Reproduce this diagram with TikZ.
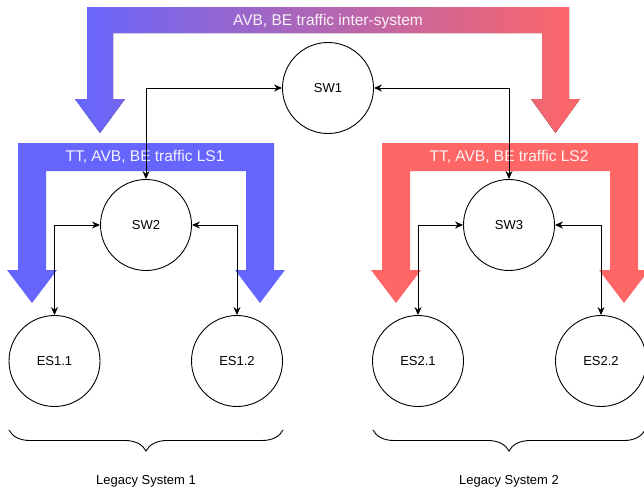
\documentclass[tikz,border=0pt]{standalone}
\usepackage{fontspec}
\setmainfont{Liberation Sans}
\usepackage{tikz}
\usetikzlibrary{arrows.meta,decorations.pathreplacing}
\definecolor{lsblue}{RGB}{102,102,255}
\definecolor{lsred}{RGB}{255,102,102}

\begin{document}
\begin{tikzpicture}[x=1pt,y=-1pt,
    dev/.style={draw, circle, line width=0.9pt, minimum size=91pt, inner sep=0pt, font=\fontsize{13}{15}\selectfont},
    link/.style={line width=0.9pt, {Stealth[length=8pt,width=7pt]}-{Stealth[length=8pt,width=7pt]}},
    flowtext/.style={text=white, text opacity=0.92, font=\fontsize{15.5}{18}\selectfont},
    sysbrace/.style={decorate, decoration={brace, amplitude=21pt}, line width=0.9pt},
    systext/.style={font=\fontsize{13}{15}\selectfont}]
    \useasboundingbox (0,0) rectangle (644,490);

    % Traffic flows
    \fill[left color=lsblue, right color=lsred]
        (87,7) -- (569,7) -- (569,99) -- (580,99) -- (555.5,133) -- (531,99) -- (542,99) -- (542,33)
        -- (113,33) -- (113,99) -- (125,99) -- (100,133) -- (75,99) -- (87,99) -- cycle;
    \node[flowtext] (intertxt) at (328,21) {AVB, BE traffic inter-system};

    \fill[lsblue]
        (18,143) -- (274,143) -- (274,270) -- (285,270) -- (260,303) -- (235,270) -- (246,270) -- (246,171)
        -- (46,171) -- (46,270) -- (57,270) -- (32,303) -- (7,270) -- (18,270) -- cycle;
    \node[flowtext] (ls1txt) at (145,157) {TT, AVB, BE traffic LS1};

    \fill[lsred]
        (382,143) -- (638,143) -- (638,270) -- (649,270) -- (624,303) -- (599,270) -- (610,270) -- (610,171)
        -- (410,171) -- (410,270) -- (421,270) -- (396,303) -- (371,270) -- (382,270) -- cycle;
    \node[flowtext] (ls2txt) at (509,157) {TT, AVB, BE traffic LS2};

    % Switches and end stations
    \node[dev] (sw1) at (328,88) {SW1};
    \node[dev] (sw2) at (146,225) {SW2};
    \node[dev] (sw3) at (509,225) {SW3};
    \node[dev] (es11) at (54.5,361) {ES1.1};
    \node[dev] (es12) at (237,361) {ES1.2};
    \node[dev] (es21) at (418,361) {ES2.1};
    \node[dev] (es22) at (601,361) {ES2.2};

    % Links
    \draw[link] (sw1.west) -| (sw2.north);
    \draw[link] (sw1.east) -| (sw3.north);
    \draw[link] (sw2.west) -| (es11.north);
    \draw[link] (sw2.east) -| (es12.north);
    \draw[link] (sw3.west) -| (es21.north);
    \draw[link] (sw3.east) -| (es22.north);

    % Legacy systems
    \draw[sysbrace] (283,430) -- (9,430);
    \node[systext] (ls1) at (146,481) {Legacy System 1};
    \draw[sysbrace] (645,430) -- (373,430);
    \node[systext] (ls2) at (509,481) {Legacy System 2};
\end{tikzpicture}
\end{document}
